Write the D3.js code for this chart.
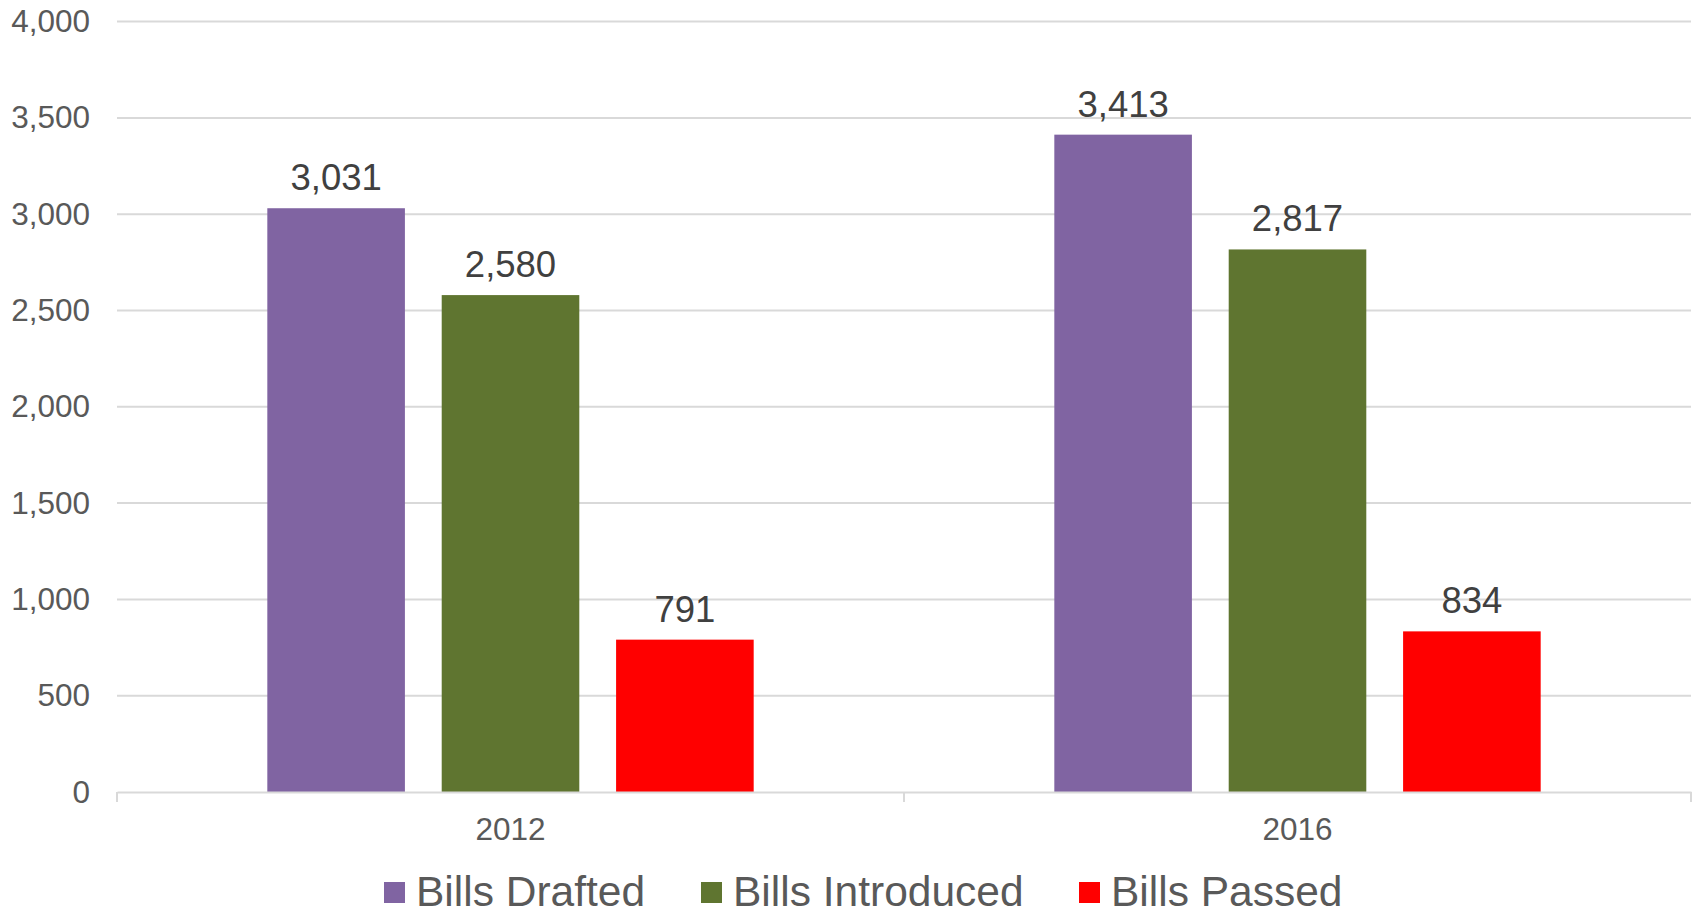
<!DOCTYPE html>
<html>
<head>
<meta charset="utf-8">
<script src="https://cdn.jsdelivr.net/npm/d3@7"></script>
<style>
  html, body { margin: 0; padding: 0; background: #fff; }
  svg { display: block; font-family: "Liberation Sans", Arial, sans-serif; }
</style>
</head>
<body>
<svg id="chart" width="1696" height="916"></svg>
<script>
const categories = ["2012", "2016"];
const seriesNames = ["Bills Drafted", "Bills Introduced", "Bills Passed"];
const billsDrafted = [3031, 3413];
const billsIntroduced = [2580, 2817];
const billsPassed = [791, 834];
const yTicks = [0, 500, 1000, 1500, 2000, 2500, 3000, 3500, 4000];
const colors = ["#8064A2", "#5F7530", "#FF0000"];

const seriesValues = [billsDrafted, billsIntroduced, billsPassed];

(function () {
const svg = d3.select("#chart");
const mLeft = 117, mRight = 1691, mTop = 21.6, mBottom = 792;

const x0 = d3.scaleBand().domain(categories).range([mLeft, mRight]).paddingInner(0).paddingOuter(0);
const bw = x0.bandwidth();
const x1 = d3.scaleBand().domain(seriesNames).range([bw * 0.191, bw * 0.809]).paddingInner(0.211).paddingOuter(0);
const y = d3.scaleLinear().domain([0, 4000]).range([mBottom, mTop]);

// gridlines
svg.append("g").selectAll("line").data(yTicks.filter(d => d > 0)).join("line")
  .attr("x1", mLeft).attr("x2", mRight)
  .attr("y1", d => y(d)).attr("y2", d => y(d))
  .attr("stroke", "#d9d9d9").attr("stroke-width", 2);

// y axis labels
const yAxis = d3.axisLeft(y).tickValues(yTicks).tickSize(0).tickPadding(0)
  .tickFormat(d3.format(","));
const yg = svg.append("g").attr("transform", `translate(${mLeft - 27},0)`).call(yAxis);
yg.select(".domain").remove();
yg.selectAll("text").attr("fill", "#595959").style("font-size", "31.5px")
  .style("font-family", "'Liberation Sans', Arial, sans-serif");

// bars
const groups = svg.append("g").selectAll("g").data(categories).join("g")
  .attr("transform", d => `translate(${x0(d)},0)`);

groups.selectAll("rect")
  .data((c, i) => seriesNames.map((s, j) => ({ s, v: seriesValues[j][i], j })))
  .join("rect")
  .attr("x", d => x1(d.s))
  .attr("width", x1.bandwidth())
  .attr("y", d => y(d.v))
  .attr("height", d => y(0) - y(d.v))
  .attr("fill", d => colors[d.j]);

groups.selectAll("text.lbl")
  .data((c, i) => seriesNames.map((s, j) => ({ s, v: seriesValues[j][i], j })))
  .join("text").attr("class", "lbl")
  .attr("x", d => x1(d.s) + x1.bandwidth() / 2)
  .attr("y", d => y(d.v) - 18)
  .attr("text-anchor", "middle")
  .attr("fill", "#404040")
  .style("font-size", "36.5px")
  .text(d => d3.format(",")(d.v));

// x axis
const xAxis = d3.axisBottom(x0).tickSize(0).tickPadding(0);
const xg = svg.append("g").attr("transform", `translate(0,${mBottom})`).call(xAxis);
xg.select(".domain").attr("stroke", "#d9d9d9").attr("stroke-width", 2);
xg.selectAll("text").attr("fill", "#595959").style("font-size", "31.5px")
  .style("font-family", "'Liberation Sans', Arial, sans-serif")
  .attr("dy", null).attr("y", 48);

// boundary ticks
const bounds = [mLeft, ...categories.map(c => x0(c) + bw)];
svg.append("g").selectAll("line").data(bounds).join("line")
  .attr("x1", d => d).attr("x2", d => d)
  .attr("y1", mBottom).attr("y2", mBottom + 10)
  .attr("stroke", "#d9d9d9").attr("stroke-width", 2);

// legend
const legendX = [384, 701, 1079];
const lg = svg.append("g").selectAll("g").data(seriesNames).join("g")
  .attr("transform", (d, i) => `translate(${legendX[i]},0)`);
lg.append("rect").attr("x", 0).attr("y", 882).attr("width", 21).attr("height", 21)
  .attr("fill", (d, i) => colors[i]);
lg.append("text").attr("x", 32).attr("y", 906)
  .attr("fill", "#595959").style("font-size", "42.5px").text(d => d);
})();
</script>
</body>
</html>
